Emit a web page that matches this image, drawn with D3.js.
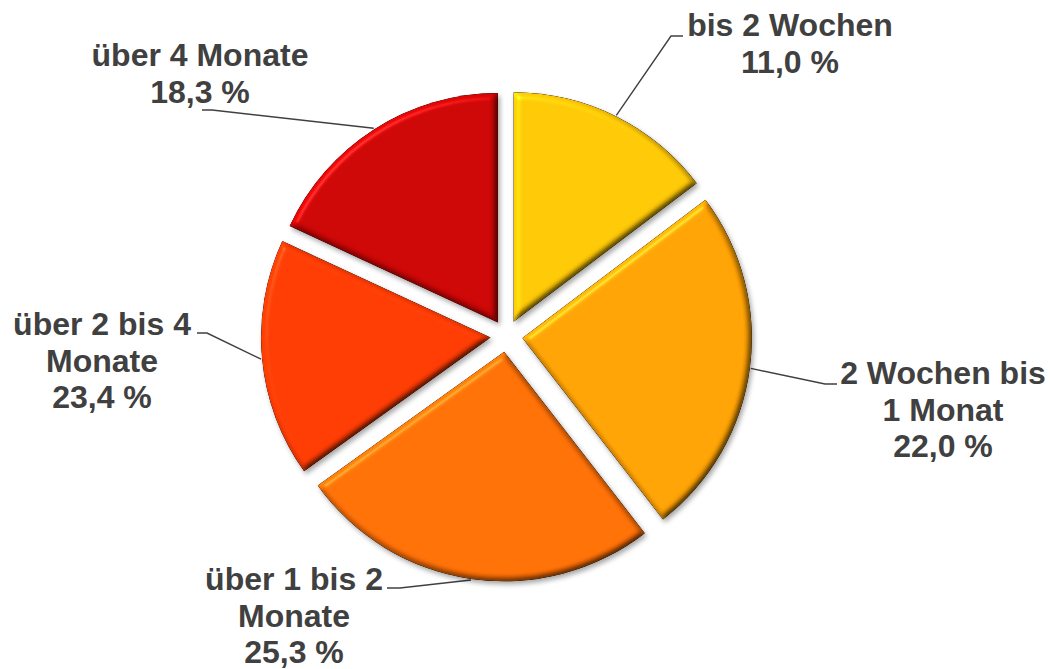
<!DOCTYPE html>
<html>
<head>
<meta charset="utf-8">
<script src="https://cdn.jsdelivr.net/npm/d3@7"></script>
<style>
    body { margin: 0; background: #fff; }
    svg text { font-family: "Liberation Sans", Arial, sans-serif; font-weight: bold; fill: #404040; }
</style>
</head>
<body>
<div id="chart"></div>
<script>
// Kategorien (Zeilen der Beschriftung)
var kategorien = [
    ["bis 2 Wochen"],
    ["2 Wochen bis", "1 Monat"],
    ["über 1 bis 2", "Monate"],
    ["über 2 bis 4", "Monate"],
    ["über 4 Monate"]
];
// Prozentwerte laut Beschriftung
var prozente = [11.0, 22.0, 25.3, 23.4, 18.3];
// Segmentgrößen, wie sie im Bild gezeichnet sind
var segmentAnteile = [14.7, 24.8, 25.6, 16.8, 18.1];
var farben = ["#ffc806", "#ffa204", "#ff7006", "#ff3b03", "#cc0505"];

// Layout der Beschriftungen: Textmitte x, erste Grundlinie y, Knickpunkt, Linienende x
var labelLayout = [
    {x: 790, y: 36,  kx: 671, ky: 36,  ex: 683},
    {x: 943, y: 384, kx: 825, ky: 384, ex: 837},
    {x: 294, y: 590, kx: 400, ky: 588, ex: 387},
    {x: 102, y: 335, kx: 207, ky: 333, ex: 197},
    {x: 200, y: 66,  kx: 212, ky: 110, ex: 202}
];

var width = 1050, height = 669;
var cx = 506.5, cy = 336, radius = 229.5, explode = 16, lineHeight = 36.5;

var de = d3.formatLocale({decimal: ",", thousands: ".", grouping: [3], currency: ["", " €"]});
var fmt = de.format(".1f");

var svg = d3.select("#chart")
    .append("svg")
    .attr("width", width)
    .attr("height", height);

// Bevel- und Schatteneffekt
var defs = svg.append("defs");
var f = defs.append("filter")
    .attr("id", "bevel")
    .attr("x", "-10%").attr("y", "-10%")
    .attr("width", "125%").attr("height", "125%")
    .attr("color-interpolation-filters", "sRGB");
f.append("feGaussianBlur").attr("in", "SourceAlpha").attr("stdDeviation", 3).attr("result", "blur");
f.append("feDiffuseLighting")
    .attr("in", "blur").attr("surfaceScale", 3.5).attr("diffuseConstant", 1)
    .attr("lighting-color", "#ffffff").attr("result", "diff")
    .append("feDistantLight").attr("azimuth", 225).attr("elevation", 60);
f.append("feComposite").attr("in", "SourceGraphic").attr("in2", "diff")
    .attr("operator", "arithmetic").attr("k1", 1.155).attr("k2", 0).attr("k3", 0).attr("k4", 0)
    .attr("result", "shaded");
f.append("feSpecularLighting")
    .attr("in", "blur").attr("surfaceScale", 4).attr("specularConstant", 0.35)
    .attr("specularExponent", 45).attr("lighting-color", "#ffffff").attr("result", "spec")
    .append("feDistantLight").attr("azimuth", 225).attr("elevation", 50);
f.append("feComposite").attr("in", "spec").attr("in2", "SourceAlpha").attr("operator", "in").attr("result", "specIn");
f.append("feComposite").attr("in", "shaded").attr("in2", "specIn")
    .attr("operator", "arithmetic").attr("k1", 0).attr("k2", 1).attr("k3", 0.5).attr("k4", 0)
    .attr("result", "lit");
f.append("feComposite").attr("in", "lit").attr("in2", "SourceAlpha").attr("operator", "in").attr("result", "litIn");
f.append("feDropShadow").attr("in", "SourceAlpha").attr("dx", 2).attr("dy", 3)
    .attr("stdDeviation", 2.5).attr("flood-color", "#000").attr("flood-opacity", 0.35).attr("result", "shadow");
var merge = f.append("feMerge");
merge.append("feMergeNode").attr("in", "shadow");
merge.append("feMergeNode").attr("in", "litIn");

var pie = d3.pie().sort(null).value(function (d) { return d; });
var arcs = pie(segmentAnteile);
var arc = d3.arc().innerRadius(0).outerRadius(radius);

function mid(d) { return (d.startAngle + d.endAngle) / 2; }
function offset(d) {
    var a = mid(d);
    return [cx + explode * Math.sin(a), cy - explode * Math.cos(a)];
}

// Leader lines
svg.append("g")
    .selectAll("polyline")
    .data(arcs)
    .enter()
    .append("polyline")
    .attr("points", function (d, i) {
        var o = offset(d), a = mid(d), L = labelLayout[i];
        var px = o[0] + (radius + 1) * Math.sin(a), py = o[1] - (radius + 1) * Math.cos(a);
        return [[px, py], [L.kx, L.ky], [L.ex, L.ky]].map(function (p) { return p.join(","); }).join(" ");
    })
    .attr("fill", "none")
    .attr("stroke", "#404040")
    .attr("stroke-width", 1.4);

// Slices
svg.append("g")
    .selectAll("path")
    .data(arcs)
    .enter()
    .append("path")
    .attr("transform", function (d) { return "translate(" + offset(d) + ")"; })
    .attr("d", arc)
    .attr("fill", function (d, i) { return farben[i]; })
    .attr("filter", "url(#bevel)");

// Labels
var labels = svg.append("g")
    .selectAll("text")
    .data(arcs)
    .enter()
    .append("text")
    .attr("text-anchor", "middle")
    .attr("font-size", "32px");

labels.each(function (d, i) {
    var t = d3.select(this), L = labelLayout[i];
    var zeilen = kategorien[i].concat([fmt(prozente[i]) + " %"]);
    zeilen.forEach(function (z, j) {
        t.append("tspan")
            .attr("x", L.x)
            .attr("y", L.y + j * lineHeight)
            .text(z);
    });
});
</script>
</body>
</html>
